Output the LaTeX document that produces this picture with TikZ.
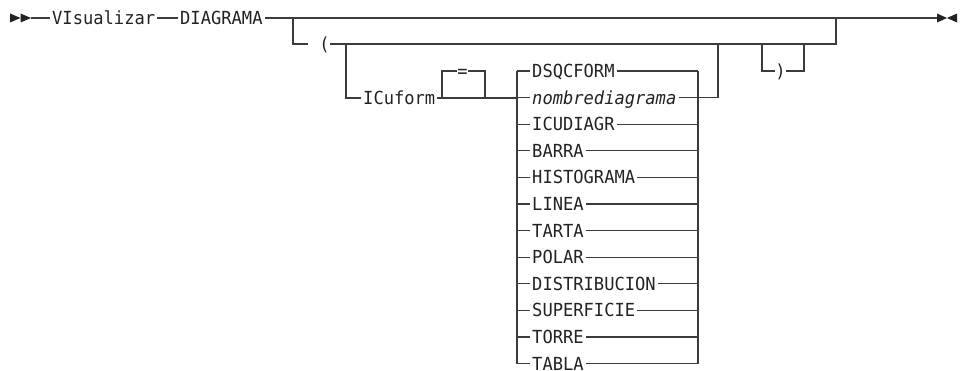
\documentclass[tikz,border=0pt]{standalone}
\usepackage{fontspec}
\usepackage{xcolor}
\usepackage{tikz}
\usetikzlibrary{calc}
\newfontfamily\railfont[FakeStretch=0.95]{DejaVu Sans Mono}
\definecolor{ink}{HTML}{222222}
\definecolor{railgray}{HTML}{3C3C3C}
\tikzset{
  rail/.style={draw=railgray,line width=1.3pt},
  keyword/.style={font=\railfont\fontsize{18}{21}\selectfont,text=ink,
    inner xsep=2pt,inner ysep=0pt,text height=13.1pt,text depth=0pt,anchor=west},
  symbolchar/.style={keyword,inner xsep=0pt,anchor=center}
}

\begin{document}
\begin{tikzpicture}[x=1pt,y=-1pt]
  \useasboundingbox (0,0) rectangle (963,371);

  % start and end marks
  \fill[ink] (10,13.5) -- (20.5,18) -- (10,22.5) -- cycle;
  \fill[ink] (20.5,13.5) -- (31,18) -- (20.5,22.5) -- cycle;
  \fill[ink] (937,13.5) -- (947,18) -- (937,22.5) -- cycle;
  \fill[ink] (957,13.5) -- (947,18) -- (957,22.5) -- cycle;
  \coordinate (start) at (31,18);
  \coordinate (stop) at (937,18);

  % main line
  \node[keyword] (vis) at (50,18) {VIsualizar};
  \node[keyword] (diag) at (178,18) {DIAGRAMA};
  \draw[rail] (start) -- (vis.west);
  \draw[rail] (vis.east) -- (diag.west);
  \draw[rail] (diag.east) -- (stop);
  \coordinate (dashL) at (840,18);
  \coordinate (dashR) at (862,18);
  \draw[rail,line width=1.9pt] (dashL) -- (dashR);

  % optional parenthesised part
  \coordinate (optin) at (293,18);
  \coordinate (optout) at (836,18);
  \coordinate (lparin) at (308,44);
  \node[symbolchar] (lpar) at (324.5,44) {(};
  \draw[rail] (optin) |- (lparin);
  \draw[rail] (lpar.east) -| (optout);

  % ICuform branch
  \coordinate (icuin) at (346,44);
  \node[keyword] (icu) at (361,98) {ICuform};
  \draw[rail] (icuin) |- (icu.west);
  \coordinate (colin) at (517,98);
  \draw[rail] (icu.east) -- (colin);
  \coordinate (eqin) at (442,98);
  \coordinate (eqout) at (485,98);
  \node[symbolchar] (eq) at (462.5,71) {=};
  \draw[rail] (eqin) |- (eq.west);
  \draw[rail] (eq.east) -| (eqout);

  % choice column
  \coordinate (colTL) at (517,71);
  \coordinate (colBL) at (517,363.6);
  \coordinate (colTR) at (698,71);
  \coordinate (colBR) at (698,363.6);
  \draw[rail] (colTL) -- (colBL);
  \draw[rail] (colTR) -- (colBR);
  \foreach \name [count=\i from 0] in {DSQCFORM,\textit{nombrediagrama},
      ICUDIAGR,BARRA,HISTOGRAMA,LINEA,TARTA,POLAR,DISTRIBUCION,
      SUPERFICIE,TORRE,TABLA}{
    \node[keyword] (row\i) at (530,71+26.6*\i) {\name};
    \draw[rail] (row\i.west -| colTL) -- (row\i.west);
    \draw[rail] (row\i.east) -- (row\i.east -| colTR);
  }
  \coordinate (colout) at (718,44);
  \draw[rail] (row1.east -| colTR) -| (colout);

  % closing parenthesis
  \coordinate (rparin) at (762,44);
  \coordinate (rparout) at (804,44);
  \node[symbolchar] (rpar) at (780.5,71) {)};
  \draw[rail] (rparin) |- (rpar.west);
  \draw[rail] (rpar.east) -| (rparout);
\end{tikzpicture}
\end{document}
